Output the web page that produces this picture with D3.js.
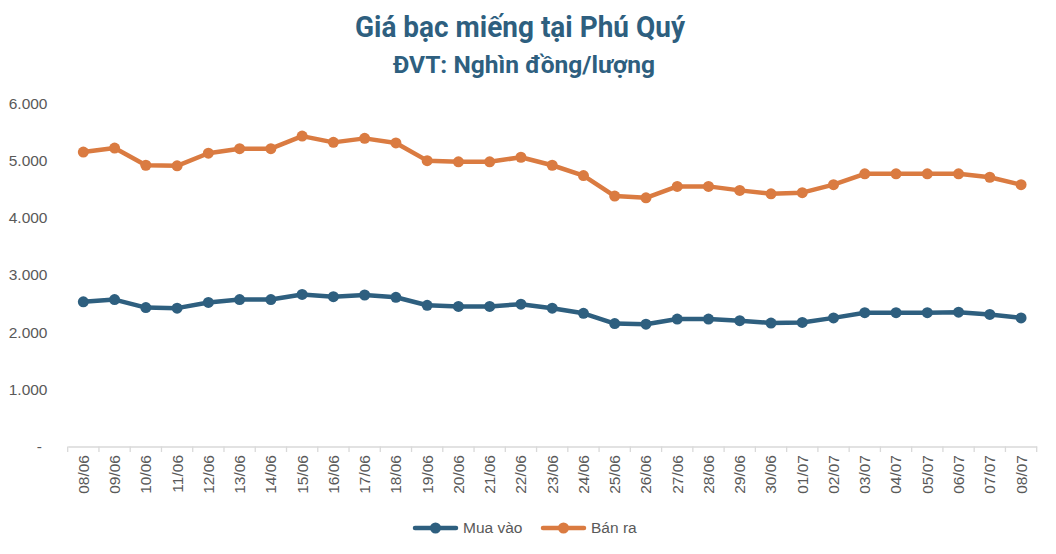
<!DOCTYPE html>
<html>
<head>
<meta charset="utf-8">
<script src="https://cdn.jsdelivr.net/npm/d3@7/dist/d3.min.js"></script>
<style>
  html, body { margin: 0; padding: 0; background: #ffffff; }
  svg { display: block; }
</style>
</head>
<body>
<svg id="chart" width="1056" height="554"></svg>
<script>
const titleText = "Giá bạc miếng tại Phú Quý";
const subtitleText = "ĐVT: Nghìn đồng/lượng";
const categories = ["08/06","09/06","10/06","11/06","12/06","13/06","14/06","15/06","16/06","17/06","18/06","19/06","20/06","21/06","22/06","23/06","24/06","25/06","26/06","27/06","28/06","29/06","30/06","01/07","02/07","03/07","04/07","05/07","06/07","07/07","08/07"];
const muaVao = [2530,2570,2430,2420,2520,2570,2570,2660,2620,2650,2610,2470,2450,2450,2490,2420,2330,2150,2140,2230,2230,2200,2160,2170,2250,2340,2340,2340,2350,2310,2250];
const banRa = [5150,5220,4920,4910,5130,5210,5210,5430,5320,5390,5310,5000,4980,4980,5060,4920,4740,4380,4350,4550,4550,4480,4420,4440,4580,4770,4770,4770,4770,4710,4580];
const yTicks = [0,1000,2000,3000,4000,5000,6000];
const seriesNames = ["Mua vào","Bán ra"];
const seriesColors = ["#2E5F7F","#DA7B41"];

const svg = d3.select("#chart");
const labelFont = "'Liberation Sans', Arial, sans-serif";
const textColor = "#595959";

const x = d3.scaleBand().domain(categories).range([67.7, 1036.7]).padding(0);
const y = d3.scaleLinear().domain([0, 6000]).range([446.5, 103.5]);
const cx = d => x(d) + x.bandwidth() / 2;

// Title
svg.append("text").attr("x", 520).attr("y", 36.5)
  .attr("text-anchor", "middle")
  .attr("font-family", "Roboto, 'Liberation Sans', sans-serif")
  .attr("font-weight", "bold").attr("font-size", 29)
  .attr("fill", "#2E5F7F")
  .attr("textLength", 330).attr("lengthAdjust", "spacingAndGlyphs")
  .text(titleText);
svg.append("text").attr("x", 524).attr("y", 73.3)
  .attr("text-anchor", "middle")
  .attr("font-family", "Roboto, 'Liberation Sans', sans-serif")
  .attr("font-weight", "bold").attr("font-size", 23)
  .attr("fill", "#2E5F7F")
  .attr("textLength", 262).attr("lengthAdjust", "spacingAndGlyphs")
  .text(subtitleText);

// Y axis labels
const fmt = v => v === 0 ? "-" : d3.format(",")(v).replace(/,/g, ".");
svg.append("g").selectAll("text").data(yTicks).join("text")
  .attr("x", d => d === 0 ? 42 : 47.5)
  .attr("y", d => y(d))
  .attr("dy", "0.35em")
  .attr("text-anchor", "end")
  .attr("font-family", labelFont).attr("font-size", 15.5)
  .attr("fill", textColor)
  .text(fmt);

// X axis
const xAxis = d3.axisBottom(x).tickSize(0).tickFormat("");
const gx = svg.append("g").attr("transform", `translate(0,${y(0)})`).call(xAxis);
gx.select(".domain").attr("stroke", "#D9D9D9").attr("stroke-width", 1.3);
const edges = categories.map(c => x(c)).concat([x(categories[categories.length - 1]) + x.bandwidth()]);
svg.append("g").selectAll("line").data(edges).join("line")
  .attr("x1", d => d).attr("x2", d => d)
  .attr("y1", y(0)).attr("y2", y(0) + 5.5)
  .attr("stroke", "#D9D9D9").attr("stroke-width", 1.3);
svg.append("g").selectAll("text").data(categories).join("text")
  .attr("transform", d => `translate(${cx(d)},${y(0) + 8.5}) rotate(-90)`)
  .attr("dy", "0.35em")
  .attr("text-anchor", "end")
  .attr("font-family", labelFont).attr("font-size", 15.5)
  .attr("fill", textColor)
  .text(d => d);

// Series
const series = [muaVao, banRa];
const line = d3.line().x((d, i) => cx(categories[i])).y(d => y(d));
series.forEach((vals, k) => {
  const g = svg.append("g");
  g.append("path").datum(vals).attr("d", line)
    .attr("fill", "none").attr("stroke", seriesColors[k])
    .attr("stroke-width", 4.5).attr("stroke-linejoin", "round").attr("stroke-linecap", "round");
  g.selectAll("circle").data(vals).join("circle")
    .attr("cx", (d, i) => cx(categories[i])).attr("cy", d => y(d))
    .attr("r", 5.5).attr("fill", seriesColors[k]);
});

// Legend
const legendItems = [
  { name: seriesNames[0], color: seriesColors[0], x0: 415 },
  { name: seriesNames[1], color: seriesColors[1], x0: 543 }
];
const lg = svg.append("g");
legendItems.forEach(it => {
  lg.append("line").attr("x1", it.x0).attr("x2", it.x0 + 41)
    .attr("y1", 528).attr("y2", 528)
    .attr("stroke", it.color).attr("stroke-width", 4.5).attr("stroke-linecap", "round");
  lg.append("circle").attr("cx", it.x0 + 20.5).attr("cy", 528).attr("r", 5.5).attr("fill", it.color);
  lg.append("text").attr("x", it.x0 + 48).attr("y", 528).attr("dy", "0.35em")
    .attr("font-family", labelFont).attr("font-size", 15.5).attr("fill", textColor)
    .text(it.name);
});
</script>
</body>
</html>
